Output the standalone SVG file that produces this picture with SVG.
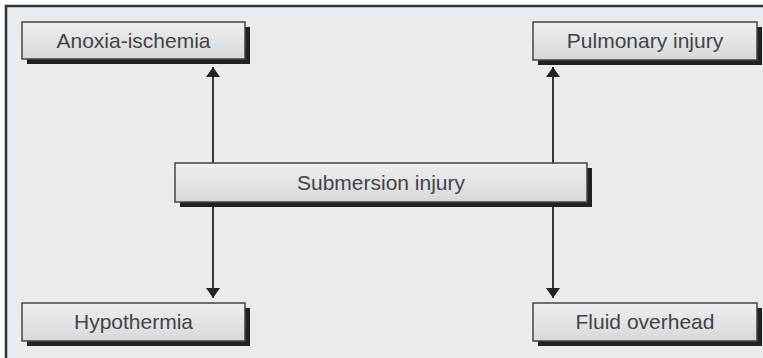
<svg xmlns="http://www.w3.org/2000/svg" width="763" height="358" viewBox="0 0 763 358">
<defs>
<linearGradient id="g" x1="0" y1="0" x2="0" y2="1">
<stop offset="0" stop-color="#eceeef"/>
<stop offset="1" stop-color="#d6d8da"/>
</linearGradient>
<marker id="ah" viewBox="0 0 10 14" refX="10" refY="7" markerWidth="10" markerHeight="14" markerUnits="userSpaceOnUse" orient="auto">
<path d="M0,0 L10,7 L0,14 Z" fill="#222"/>
</marker>
<style>
.sh{fill:#222}
.bx{fill:url(#g);stroke:#444;stroke-width:1.5}
.t{font-family:"Liberation Sans",Arial,sans-serif;font-size:21px;fill:#444;text-anchor:middle}
.c{stroke:#222;stroke-width:1.8;fill:none;marker-end:url(#ah)}
</style>
</defs>
<rect x="0" y="0" width="763" height="358" fill="#fff"/>
<rect x="6" y="6" width="770" height="370" fill="#e9ecef" stroke="#333" stroke-width="2.5"/>
<g id="connectors">
<line class="c" x1="213" y1="163" x2="213" y2="67"/>
<line class="c" x1="553" y1="163" x2="553" y2="67"/>
<line class="c" x1="213" y1="202" x2="213" y2="298"/>
<line class="c" x1="553" y1="202" x2="553" y2="298"/>
</g>
<g id="submersion">
<rect class="sh" x="180" y="168" width="412" height="39"/>
<rect class="bx" x="175" y="163" width="412" height="39"/>
<text class="t" x="381" y="190">Submersion injury</text>
</g>
<g id="anoxia">
<rect class="sh" x="27" y="27" width="223" height="37"/>
<rect class="bx" x="22" y="22" width="223" height="37"/>
<text class="t" x="133.5" y="48">Anoxia-ischemia</text>
</g>
<g id="pulmonary">
<rect class="sh" x="538" y="27" width="224" height="38"/>
<rect class="bx" x="533" y="22" width="224" height="38"/>
<text class="t" x="645" y="48">Pulmonary injury</text>
</g>
<g id="hypothermia">
<rect class="sh" x="27" y="308" width="223" height="38"/>
<rect class="bx" x="22" y="303" width="223" height="38"/>
<text class="t" x="133.5" y="329">Hypothermia</text>
</g>
<g id="fluid">
<rect class="sh" x="538" y="308" width="224" height="38"/>
<rect class="bx" x="533" y="303" width="224" height="38"/>
<text class="t" x="645" y="329">Fluid overhead</text>
</g>
</svg>
